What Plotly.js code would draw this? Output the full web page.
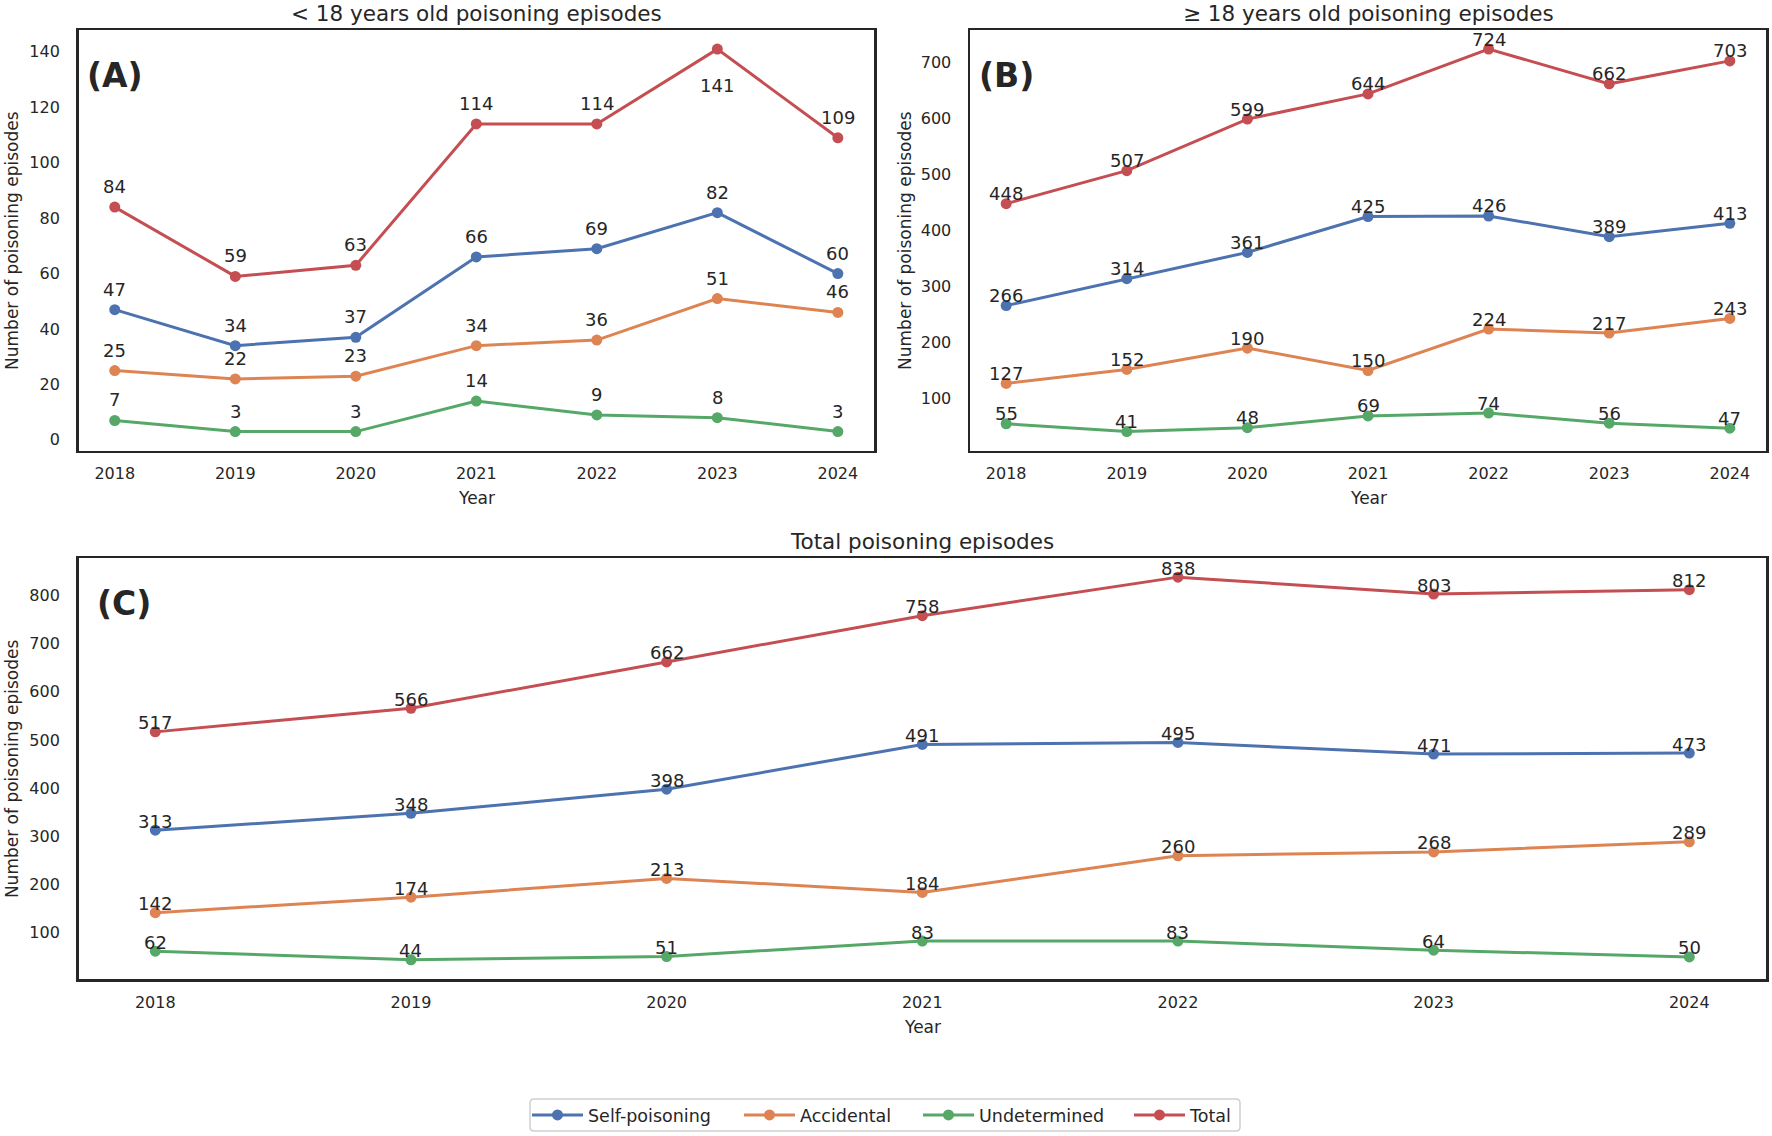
<!DOCTYPE html>
<html>
<head>
<meta charset="utf-8">
<script src="https://cdn.plot.ly/plotly-3.0.1.min.js"></script>
<style>html,body{margin:0;padding:0;background:#fff;}#chart{width:1772px;height:1136px;}</style>
</head>
<body>
<div id="chart"></div>
<script>
// ---------- DATA ----------
const years = [2018, 2019, 2020, 2021, 2022, 2023, 2024];
const seriesNames = ["Self-poisoning", "Accidental", "Undetermined", "Total"];

// (A) < 18 years old
const minorSelf = [47, 34, 37, 66, 69, 82, 60];
const minorAccidental = [25, 22, 23, 34, 36, 51, 46];
const minorUndetermined = [7, 3, 3, 14, 9, 8, 3];
const minorTotal = [84, 59, 63, 114, 114, 141, 109];

// (B) >= 18 years old
const adultSelf = [266, 314, 361, 425, 426, 389, 413];
const adultAccidental = [127, 152, 190, 150, 224, 217, 243];
const adultUndetermined = [55, 41, 48, 69, 74, 56, 47];
const adultTotal = [448, 507, 599, 644, 724, 662, 703];

// (C) Total
const allSelf = [313, 348, 398, 491, 495, 471, 473];
const allAccidental = [142, 174, 213, 184, 260, 268, 289];
const allUndetermined = [62, 44, 51, 83, 83, 64, 50];
const allTotal = [517, 566, 662, 758, 838, 803, 812];

const ticksA = [0, 20, 40, 60, 80, 100, 120, 140];
const ticksB = [100, 200, 300, 400, 500, 600, 700];
const ticksC = [100, 200, 300, 400, 500, 600, 700, 800];

const titleA = "< 18 years old poisoning episodes";
const titleB = "≥ 18 years old poisoning episodes";
const titleC = "Total poisoning episodes";
const letters = ["(A)", "(B)", "(C)"];
const yTitle = "Number of poisoning episodes";
const xTitle = "Year";

// ---------- STYLE ----------
const colors = ["#4C72B0", "#DD8452", "#55A868", "#C44E52"];
const W = 1772, H = 1136;
const FONT = "DejaVu Sans, sans-serif";
const TXT = "#262626";
// legend symbol centres (px) for each entry
const legendCentres = [551, 763, 942, 1153];
const legendBox = {x0: 530, x1: 1240, y0: 1099, y1: 1131, r: 4};

const panels = [
  {key: "", data: [minorSelf, minorAccidental, minorUndetermined, minorTotal], ticks: ticksA,
   x0: 78.6, x1: 874, y0: 30, y1: 450.7, title: titleA, labelShift: 20.5, belowMax: true, ytx: 12.6, letterX: 85},
  {key: "2", data: [adultSelf, adultAccidental, adultUndetermined, adultTotal], ticks: ticksB,
   x0: 970, x1: 1766, y0: 30, y1: 450.7, title: titleB, labelShift: 10, belowMax: false, ytx: 905.6, letterX: 977},
  {key: "3", data: [allSelf, allAccidental, allUndetermined, allTotal], ticks: ticksC,
   x0: 78.6, x1: 1766, y0: 558, y1: 979, title: titleC, labelShift: 9, belowMax: false, ytx: 12.6, letterX: 95}
];

function yrange(arrs) {
  let mn = Infinity, mx = -Infinity;
  arrs.forEach(a => a.forEach(v => { mn = Math.min(mn, v); mx = Math.max(mx, v); }));
  const pad = (mx - mn) * 0.05;
  return [mn - pad, mx + pad];
}
const xpad = (years[years.length - 1] - years[0]) * 0.05;

const traces = [];
const annotations = [];
const layout = {
  width: W, height: H,
  margin: {l: 0, r: 0, t: 0, b: 0},
  paper_bgcolor: "#fff", plot_bgcolor: "#fff",
  showlegend: true,
  annotations: annotations,
  shapes: []
};

// legends: one per series, laid out inside one shared box
const legendIds = ["legend", "legend2", "legend3", "legend4"];
legendIds.forEach((id, i) => {
  layout[id] = {
    orientation: "h", x: (legendCentres[i] - 24) / W, xanchor: "left",
    y: 1 - (legendBox.y0 + legendBox.y1) / 2 / H, yanchor: "middle",
    borderwidth: 0, bgcolor: "rgba(0,0,0,0)", itemwidth: 51,
    font: {family: FONT, size: 17.5, color: TXT}
  };
});
(function () {
  const b = legendBox, fx = v => v / W, fy = v => 1 - v / H;
  const rx = b.r;
  layout.shapes.push({
    type: "path", xref: "paper", yref: "paper",
    path: "M" + fx(b.x0 + rx) + "," + fy(b.y0) +
      " L" + fx(b.x1 - rx) + "," + fy(b.y0) +
      " Q" + fx(b.x1) + "," + fy(b.y0) + " " + fx(b.x1) + "," + fy(b.y0 + rx) +
      " L" + fx(b.x1) + "," + fy(b.y1 - rx) +
      " Q" + fx(b.x1) + "," + fy(b.y1) + " " + fx(b.x1 - rx) + "," + fy(b.y1) +
      " L" + fx(b.x0 + rx) + "," + fy(b.y1) +
      " Q" + fx(b.x0) + "," + fy(b.y1) + " " + fx(b.x0) + "," + fy(b.y1 - rx) +
      " L" + fx(b.x0) + "," + fy(b.y0 + rx) +
      " Q" + fx(b.x0) + "," + fy(b.y0) + " " + fx(b.x0 + rx) + "," + fy(b.y0) + " Z",
    line: {color: "#cfcfcf", width: 1.5}, fillcolor: "rgba(0,0,0,0)", layer: "below"
  });
})();

panels.forEach((p, pi) => {
  const xa = "x" + p.key, ya = "y" + p.key;
  p.data.forEach((vals, si) => {
    traces.push({
      x: years, y: vals, type: "scatter", mode: "lines+markers",
      name: seriesNames[si], legendgroup: seriesNames[si], showlegend: pi === 0,
      legend: legendIds[si],
      xaxis: xa, yaxis: ya,
      line: {color: colors[si], width: 3},
      marker: {color: colors[si], size: 11},
      hoverinfo: "x+y"
    });
  });
  const allVals = [].concat(...p.data);
  const mx = Math.max(...allVals);
  p.data.forEach((vals) => {
    vals.forEach((v, i) => {
      const below = p.belowMax && v === mx;
      annotations.push({
        x: years[i], y: v, xref: xa, yref: ya, text: String(v), showarrow: false,
        xanchor: "center", yanchor: "middle", yshift: below ? -36 : p.labelShift,
        font: {family: FONT, size: 18, color: TXT}
      });
    });
  });
  const axisCommon = {
    showline: true, mirror: true, linecolor: "#262626", linewidth: 2.5,
    showgrid: false, zeroline: false, ticks: "",
    tickfont: {family: FONT, size: 16, color: TXT}
  };
  layout["xaxis" + p.key] = Object.assign({}, axisCommon, {
    domain: [p.x0 / W, p.x1 / W], anchor: ya,
    range: [years[0] - xpad, years[years.length - 1] + xpad],
    tickmode: "array", tickvals: years, ticktext: years.map(String),
    ticklabelstandoff: 7
  });
  layout["yaxis" + p.key] = Object.assign({}, axisCommon, {
    domain: [1 - p.y1 / H, 1 - p.y0 / H], anchor: xa,
    range: yrange(p.data),
    tickmode: "array", tickvals: p.ticks, ticktext: p.ticks.map(String),
    ticklabelstandoff: 13
  });
  // subplot title
  annotations.push({
    x: (p.x0 + p.x1) / 2 / W, y: 1 - (p.y0 - 17) / H, xref: "paper", yref: "paper",
    text: p.title, showarrow: false, xanchor: "center", yanchor: "middle",
    font: {family: FONT, size: 21.5, color: TXT}
  });
  // panel letter
  annotations.push({
    x: p.letterX / W, y: 0.944, xref: "paper", yref: ya + " domain",
    text: "<b>" + letters[pi] + "</b>", showarrow: false, xanchor: "left", yanchor: "top",
    font: {family: FONT, size: 33, color: TXT}
  });
  // y axis title
  annotations.push({
    x: p.ytx / W, y: 1 - (p.y0 + p.y1) / 2 / H, xref: "paper", yref: "paper",
    text: yTitle, textangle: -90, showarrow: false, xanchor: "center", yanchor: "middle",
    font: {family: FONT, size: 17, color: TXT}
  });
  // x axis title
  annotations.push({
    x: (p.x0 + p.x1) / 2 / W, y: 1 - (p.y1 + 47.5) / H, xref: "paper", yref: "paper",
    text: xTitle, showarrow: false, xanchor: "center", yanchor: "middle",
    font: {family: FONT, size: 17, color: TXT}
  });
});

Plotly.newPlot("chart", traces, layout, {displayModeBar: false, staticPlot: true});
</script>
</body>
</html>
